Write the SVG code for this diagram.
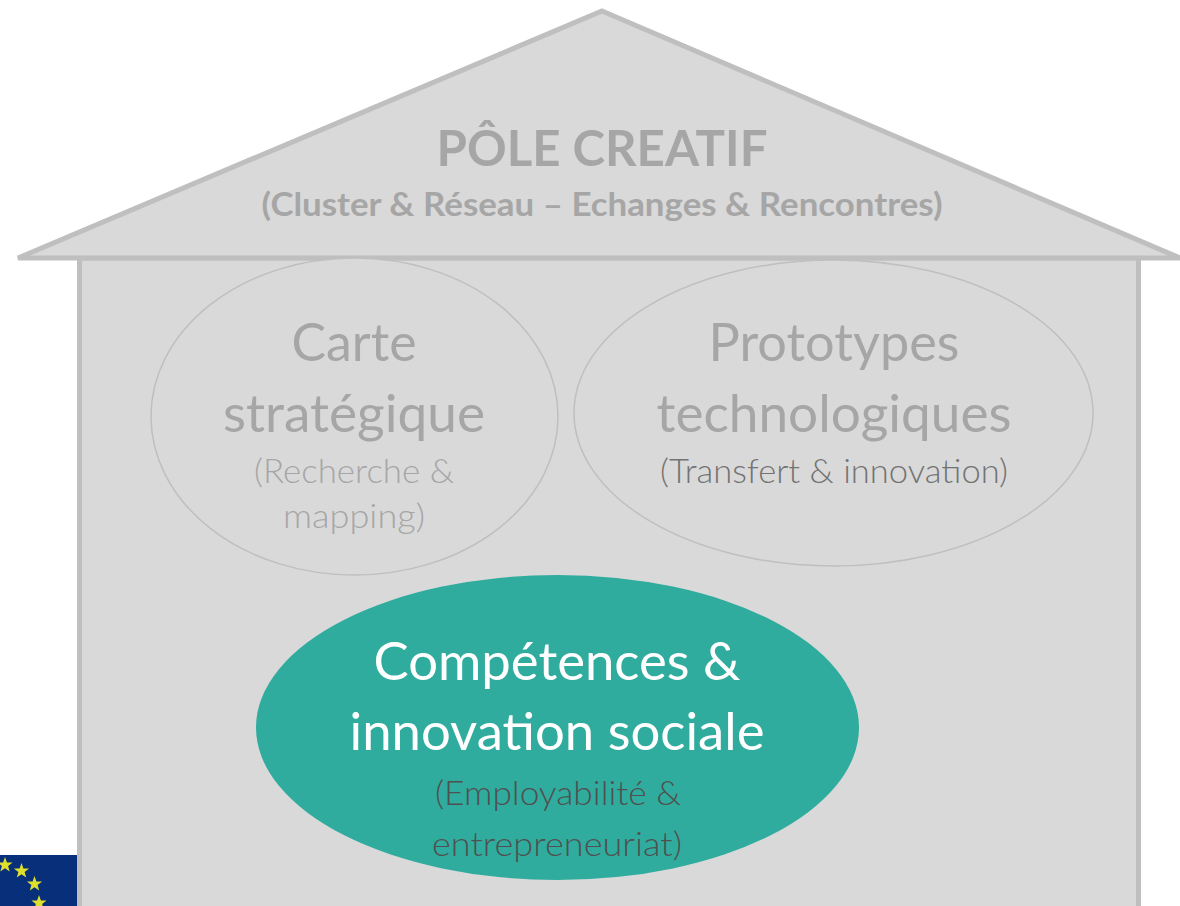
<svg xmlns="http://www.w3.org/2000/svg" width="1180" height="906" viewBox="0 0 1180 906">
<style>
text{font-family:Lato,"Open Sans","Liberation Sans",sans-serif;text-anchor:middle}
.h{fill:#d9d9d9;stroke:#bfbfbf;stroke-width:5}
.e{fill:#d9d9d9;stroke:#bfbfbf;stroke-width:1.5}
.t1{font-size:52px;fill:#a6a6a6;font-weight:400}
.t2{font-size:34px;fill:#a6a6a6;font-weight:300}
.t3{font-size:34px;fill:#737373;font-weight:300}
.w{font-size:52px;fill:#fff;font-weight:400}
.s{font-size:34px;fill:#505050;font-weight:300}
.star{fill:#dfe02e}
</style>
<g id="flag">
<rect x="0" y="855" width="77" height="51" fill="#08307a"/>
<polygon class="star" points="5,857 6.900,862.400 12.600,862.500 8.100,866 9.700,871.500 5,868.300 0.300,871.500 1.900,866 -2.600,862.500 3.100,862.400"/>
<polygon class="star" points="21.500,863 23.400,868.400 29.100,868.500 24.600,872 26.200,877.500 21.500,874.300 16.800,877.500 18.400,872 13.900,868.500 19.600,868.400"/>
<polygon class="star" points="34.500,876 36.400,881.400 42.100,881.500 37.600,885 39.200,890.500 34.500,887.300 29.800,890.500 31.400,885 26.900,881.500 32.600,881.400"/>
<polygon class="star" points="39,895 40.900,900.400 46.600,900.500 42.100,904 43.700,909.500 39,906.300 34.300,909.500 35.900,904 31.400,900.500 37.100,900.400"/>
</g>
<g id="house-body"><rect class="h" x="79.500" y="258" width="1059" height="660"/></g>
<g id="roof">
<polygon class="h" points="602,11 1180,258 18,258"/>
<text x="602" y="166" font-size="50" font-weight="700" fill="#a6a6a6" textLength="331" lengthAdjust="spacingAndGlyphs">PÔLE CREATIF</text>
<text x="602" y="216" font-size="32" font-weight="700" fill="#a6a6a6" textLength="681" lengthAdjust="spacingAndGlyphs">(Cluster &amp; Réseau – Echanges &amp; Rencontres)</text>
</g>
<g id="carte">
<ellipse class="e" cx="354.500" cy="416.500" rx="203.500" ry="158.500"/>
<text class="t1" x="354" y="361" textLength="125" lengthAdjust="spacingAndGlyphs">Carte</text>
<text class="t1" x="354" y="432" textLength="262" lengthAdjust="spacingAndGlyphs">stratégique</text>
<text class="t2" x="354" y="483" textLength="200" lengthAdjust="spacingAndGlyphs">(Recherche &amp;</text>
<text class="t2" x="354" y="528" textLength="142" lengthAdjust="spacingAndGlyphs">mapping)</text>
</g>
<g id="prototypes">
<ellipse class="e" cx="833.500" cy="413" rx="259.500" ry="153"/>
<text class="t1" x="834" y="361" textLength="251" lengthAdjust="spacingAndGlyphs">Prototypes</text>
<text class="t1" x="834" y="432" textLength="355" lengthAdjust="spacingAndGlyphs">technologiques</text>
<text class="t3" x="834" y="483" textLength="348" lengthAdjust="spacingAndGlyphs">(Transfert &amp; innovation)</text>
</g>
<g id="competences">
<ellipse cx="557.500" cy="727.500" rx="301.500" ry="152.500" fill="#2fac9e"/>
<text class="w" x="557" y="680" textLength="367" lengthAdjust="spacingAndGlyphs">Compétences &amp;</text>
<text class="w" x="557" y="750" textLength="415" lengthAdjust="spacingAndGlyphs">innovation sociale</text>
<text class="s" x="558" y="805" textLength="246" lengthAdjust="spacingAndGlyphs">(Employabilité &amp;</text>
<text class="s" x="557" y="856" textLength="250" lengthAdjust="spacingAndGlyphs">entrepreneuriat)</text>
</g>
<g id="connectors"></g>
</svg>
